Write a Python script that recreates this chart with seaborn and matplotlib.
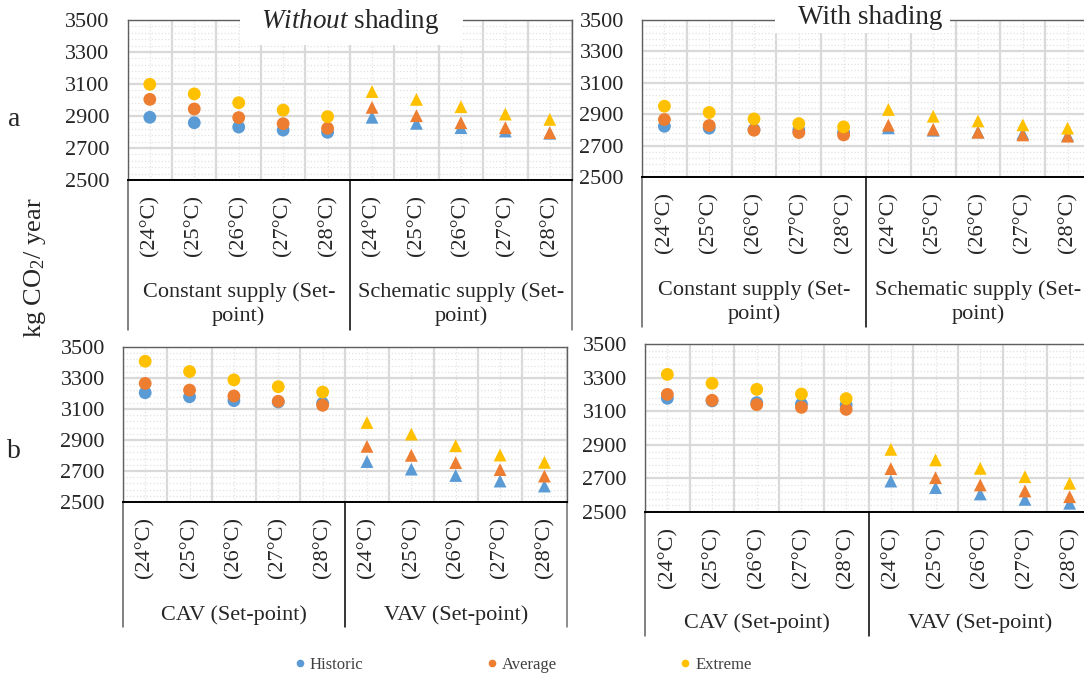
import numpy as np
import pandas as pd
import matplotlib
matplotlib.use("Agg")
import matplotlib.pyplot as plt
from matplotlib.lines import Line2D
from matplotlib.patches import Rectangle
from matplotlib.transforms import blended_transform_factory
import seaborn as sns

# ---- data -------------------------------------------------------------
setpoints = ["(24°C)", "(25°C)", "(26°C)", "(27°C)", "(28°C)"]
scenarios = ["Historic", "Average", "Extreme"]

groups_a = ["Constant supply (Set-\npoint)", "Schematic supply (Set-\npoint)"]
groups_b = ["CAV (Set-point)", "VAV (Set-point)"]

# a) without shading: constant supply then schematic supply
a_wo_historic = [2892, 2858, 2831, 2812, 2798, 2892, 2854, 2827, 2806, 2792]
a_wo_average = [3004, 2944, 2890, 2852, 2823, 2954, 2902, 2858, 2827, 2796]
a_wo_extreme = [3098, 3038, 2983, 2937, 2896, 3053, 3004, 2958, 2912, 2879]

# a) with shading
a_ws_historic = [2823, 2811, 2802, 2798, 2785, 2813, 2798, 2787, 2777, 2766]
a_ws_average = [2866, 2828, 2798, 2783, 2768, 2830, 2804, 2785, 2768, 2760]
a_ws_extreme = [2951, 2911, 2870, 2840, 2819, 2930, 2887, 2857, 2832, 2811]

# b) without shading: CAV then VAV
b_wo_historic = [3205, 3179, 3154, 3145, 3137, 2761, 2712, 2671, 2635, 2603]
b_wo_average = [3265, 3222, 3184, 3150, 3124, 2859, 2801, 2754, 2709, 2667]
b_wo_extreme = [3408, 3342, 3288, 3244, 3209, 3013, 2938, 2863, 2803, 2756]

# b) with shading
b_ws_historic = [3177, 3161, 3151, 3143, 3137, 2684, 2645, 2607, 2575, 2552]
b_ws_average = [3200, 3165, 3139, 3123, 3111, 2758, 2704, 2661, 2625, 2591]
b_ws_extreme = [3319, 3266, 3230, 3202, 3175, 2873, 2810, 2760, 2710, 2671]

y_ticks = [2500, 2700, 2900, 3100, 3300, 3500]

# ---- style ------------------------------------------------------------
sns.set_theme(style="white")
plt.rcParams["font.family"] = ["Liberation Serif", "DejaVu Serif"]
plt.rcParams["mathtext.fontset"] = "custom"
plt.rcParams["mathtext.rm"] = "Liberation Serif"
plt.rcParams["mathtext.it"] = "Liberation Serif:italic"

palette = {"Historic": "#5B9BD5", "Average": "#ED7D31", "Extreme": "#FFC000"}
W, H = 1084, 679
fig = plt.figure(figsize=(W / 100, H / 100), dpi=100)


def px_rect(left, top, right, bottom):
    return [left / W, 1 - bottom / H, (right - left) / W, (bottom - top) / H]


def long_frame(hist, avg, ext):
    rows = []
    for name, vals in zip(scenarios, [hist, avg, ext]):
        for i, v in enumerate(vals):
            rows.append({"pos": i, "value": v, "scenario": name,
                         "group": "first" if i < 5 else "second"})
    return pd.DataFrame(rows)


def draw_panel(rect, hist, avg, ext, groups, sep_px, group_off_px):
    ax = fig.add_axes(rect)
    df = long_frame(hist, avg, ext)
    sns.scatterplot(data=df, x="pos", y="value", hue="scenario",
                    hue_order=scenarios, palette=palette, style="group",
                    markers={"first": "o", "second": "^"}, s=85,
                    linewidth=0, legend=False, ax=ax, zorder=3)
    ax.set_xlim(-0.5, 9.5)
    ax.set_ylim(2500, 3500)
    ax.set_yticks(y_ticks)
    ax.set_yticks(np.arange(2500, 3501, 40), minor=True)
    ax.set_xticks(range(10))
    ax.set_xticklabels(setpoints * 2, rotation=90, fontsize=16)
    ax.set_xticks(np.arange(-0.5, 10, 1), minor=True)
    ax.tick_params(axis="both", which="both", length=0)
    ax.tick_params(axis="y", labelsize=16, pad=13)
    ax.tick_params(axis="x", pad=11)
    ax.set_xlabel("")
    ax.set_ylabel("")
    # solid major lines, dotted minor lines
    ax.yaxis.grid(True, which="major", color="#d9d9d9", lw=1.6, ls="-")
    ax.yaxis.grid(True, which="minor", color="#e2e2e2", lw=0.9, ls=":")
    ax.xaxis.grid(True, which="minor", color="#d9d9d9", lw=1.6, ls="-")
    ax.xaxis.grid(True, which="major", color="#e2e2e2", lw=0.9, ls=":")
    ax.set_axisbelow(True)
    for side in ["top", "left", "right"]:
        ax.spines[side].set_color("#5f5f5f")
        ax.spines[side].set_linewidth(1.0)
    ax.spines["bottom"].set_color("black")
    ax.spines["bottom"].set_linewidth(1.4)

    # multi-level category axis: separators and group names
    trans = blended_transform_factory(ax.transData, ax.transAxes)
    depth = sep_px / (rect[3] * H)
    for xs, col in [(-0.5, "#5f5f5f"), (4.5, "black"), (9.5, "#6f6f6f")]:
        ax.plot([xs, xs], [0, -depth], color=col, lw=1.1, transform=trans,
                clip_on=False)
    for gx, name in zip([2, 7], groups):
        ax.annotate(name, xy=(gx, 0), xycoords=trans,
                    xytext=(0, -group_off_px), textcoords="offset pixels",
                    ha="center", va="center", fontsize=16, linespacing=1.25)
    return ax


ax_tl = draw_panel(px_rect(127.6, 20, 572, 180), a_wo_historic, a_wo_average,
                   a_wo_extreme, groups_a, 150, 124)
ax_tr = draw_panel(px_rect(642, 20, 1090, 177), a_ws_historic, a_ws_average,
                   a_ws_extreme, groups_a, 150, 125)
ax_bl = draw_panel(px_rect(123, 347, 566.6, 502), b_wo_historic, b_wo_average,
                   b_wo_extreme, groups_b, 125, 113)
ax_br = draw_panel(px_rect(645, 344, 1092, 512), b_ws_historic, b_ws_average,
                   b_ws_extreme, groups_b, 124, 111)

# white title boxes over the top gridlines, then the titles
for left, right, bottom in [(240, 463, 45), (775, 950, 33)]:
    fig.add_artist(Rectangle((left / W, 1 - bottom / H), (right - left) / W,
                             bottom / H, transform=fig.transFigure,
                             facecolor="white", edgecolor="none", zorder=5))
fig.text(350 / W, 1 - 21 / H, r"$\mathit{Without}$ shading", ha="center",
         va="center", fontsize=19.5, zorder=6)
fig.text(870 / W, 1 - 17 / H, "With shading", ha="center", va="center",
         fontsize=19.5, zorder=6)

# row letters and shared y label
fig.text(14 / W, 1 - 120 / H, "a", ha="center", va="center", fontsize=20)
fig.text(14 / W, 1 - 452 / H, "b", ha="center", va="center", fontsize=20)
fig.text(35 / W, 1 - 268 / H, "kg CO$_2$/ year", rotation=90, ha="center",
         va="center", fontsize=19)

# legend
handles = [Line2D([], [], ls="", marker="o", markersize=5.5,
                  markerfacecolor=palette[n], markeredgewidth=0)
           for n in scenarios]
fig.legend(handles, scenarios, loc="center", bbox_to_anchor=(523 / W, 1 - 665 / H),
           ncol=3, frameon=False, fontsize=12, handlelength=0.6,
           handletextpad=0.3, columnspacing=7.4, labelcolor="#404040")

fig.savefig("out.png", dpi=100)
